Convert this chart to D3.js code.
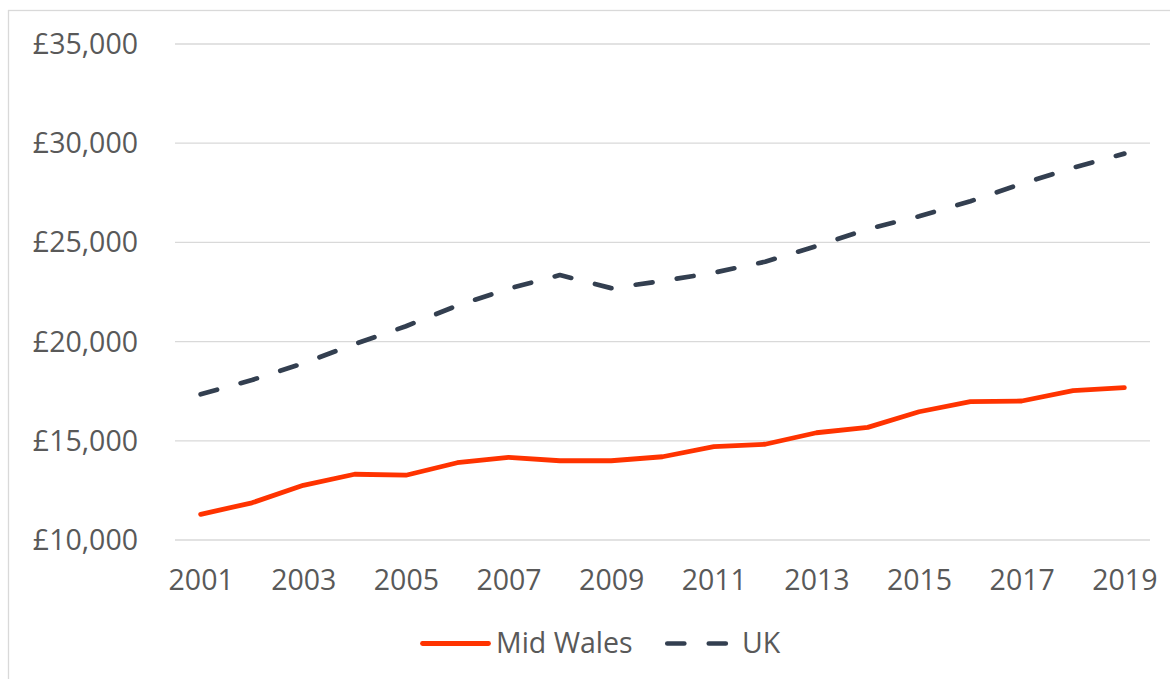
<html>
<head>
<script src="https://d3js.org/d3.v7.min.js"></script>
<style>
  body { margin: 0; background: #fff; }
  .grid line { stroke: #d9d9d9; stroke-width: 1.3px; }
  .axis text { fill: #595959; font-family: "Open Sans", sans-serif; font-size: 28.5px; }
  .legend text { fill: #595959; font-family: "Open Sans", sans-serif; font-size: 28.5px; }
</style>
</head>
<body>
<svg width="1170" height="679" id="chart"></svg>
<script>
// values
var years = ["2001","2002","2003","2004","2005","2006","2007","2008","2009","2010",
             "2011","2012","2013","2014","2015","2016","2017","2018","2019"];
var yearLabels = ["2001","2003","2005","2007","2009","2011","2013","2015","2017","2019"];
var midWales = [11270, 11850, 12730, 13290, 13240, 13870, 14140, 13970, 13970, 14170,
                14680, 14800, 15380, 15650, 16440, 16950, 16980, 17500, 17650];
var uk = [17320, 18040, 18880, 19850, 20750, 21790, 22640, 23330, 22670, 23030,
          23450, 24000, 24790, 25650, 26290, 27050, 27930, 28740, 29450];
var yTicks = [10000, 15000, 20000, 25000, 30000, 35000];

var svg = d3.select("#chart");

// outer frame of the chart box
svg.append("rect")
  .attr("x", 8.5).attr("y", 10.5)
  .attr("width", 1200).attr("height", 700)
  .attr("fill", "none")
  .attr("stroke", "#d9d9d9")
  .attr("stroke-width", 1.3);

var x = d3.scalePoint().domain(years).range([175, 1150]).padding(0.5);
var y = d3.scaleLinear().domain([10000, 35000]).range([539.5, 43.5]);

// gridlines
svg.append("g").attr("class", "grid")
  .attr("transform", "translate(175,0)")
  .call(d3.axisRight(y).tickValues(yTicks).tickSize(975).tickFormat(""))
  .call(g => g.select(".domain").remove());

// y labels
var fmt = d3.format(",");
svg.append("g").attr("class", "axis")
  .attr("transform", "translate(138,0)")
  .call(d3.axisLeft(y).tickValues(yTicks).tickSize(0).tickPadding(0).tickFormat(d => "£" + fmt(d)))
  .call(g => g.select(".domain").remove())
  .call(g => g.selectAll("text").attr("dy", "0.35em").attr("font-family", null).attr("font-size", null));

// x labels
svg.append("g").attr("class", "axis")
  .attr("transform", "translate(0,590)")
  .call(d3.axisBottom(x).tickValues(yearLabels).tickSize(0).tickPadding(0))
  .call(g => g.select(".domain").remove())
  .call(g => g.selectAll("text").attr("dy", 0).attr("font-family", null).attr("font-size", null));

var line = d3.line().x((d, i) => x(years[i])).y(d => y(d));

svg.append("path")
  .datum(midWales)
  .attr("d", line)
  .attr("fill", "none")
  .attr("stroke", "#ff3300")
  .attr("stroke-width", 4.8)
  .attr("stroke-linecap", "round")
  .attr("stroke-linejoin", "round");

svg.append("path")
  .datum(uk)
  .attr("d", line)
  .attr("fill", "none")
  .attr("stroke", "#333f50")
  .attr("stroke-width", 4.7)
  .attr("stroke-dasharray", "17,24.5")
  .attr("stroke-linecap", "round")
  .attr("stroke-linejoin", "round");

// legend
var legend = svg.append("g").attr("class", "legend");
legend.append("line")
  .attr("x1", 422.5).attr("x2", 488.5).attr("y1", 643.5).attr("y2", 643.5)
  .attr("stroke", "#ff3300").attr("stroke-width", 4.8).attr("stroke-linecap", "round");
legend.append("text").attr("x", 496).attr("y", 653).text("Mid Wales");
legend.append("line")
  .attr("x1", 667.3).attr("x2", 727).attr("y1", 643.5).attr("y2", 643.5)
  .attr("stroke", "#333f50").attr("stroke-width", 4.7)
  .attr("stroke-dasharray", "17,24.5").attr("stroke-linecap", "round");
legend.append("text").attr("x", 742).attr("y", 653).text("UK");
</script>
</body>
</html>
